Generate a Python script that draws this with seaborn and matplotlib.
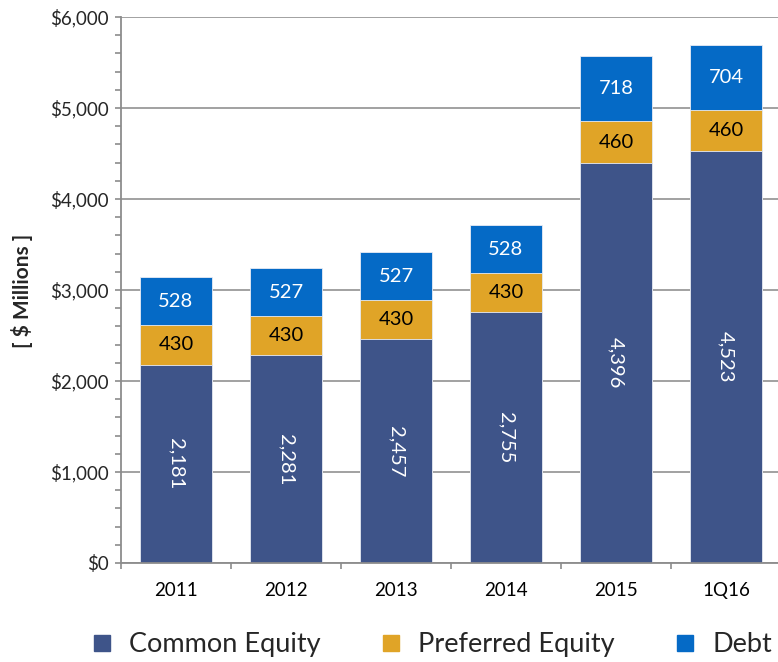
import numpy as np
import pandas as pd
import matplotlib
matplotlib.use("Agg")
import matplotlib.pyplot as plt
from matplotlib.lines import Line2D
import seaborn as sns

categories = ["2011", "2012", "2013", "2014", "2015", "1Q16"]
common_equity = [2181, 2281, 2457, 2755, 4396, 4523]
preferred_equity = [430, 430, 430, 430, 460, 460]
debt = [528, 527, 527, 528, 718, 704]
series_names = ["Common Equity", "Preferred Equity", "Debt"]
colors = ["#3E5489", "#E0A427", "#056AC6"]
ytick_values = [0, 1000, 2000, 3000, 4000, 5000, 6000]

sns.set_theme(style="white")
plt.rcParams['font.family'] = ['Lato', 'DejaVu Sans']

df = pd.DataFrame({
    "cat": categories,
    "common": common_equity,
    "pref": preferred_equity,
    "debt": debt,
})
df["c1"] = df["common"]
df["c2"] = df["common"] + df["pref"]
df["c3"] = df["c2"] + df["debt"]

fig = plt.figure(figsize=(7.78, 6.62), dpi=100)
ax = fig.add_axes([121/778, 1 - 563/662, 660/778, (563 - 17)/662])

for col, colr in zip(["c3", "c2", "c1"], colors[::-1]):
    sns.barplot(data=df, x="cat", y=col, color=colr, saturation=1, width=0.66,
                edgecolor="#E8ECF4", linewidth=0.6, ax=ax, zorder=3)

ax.set_ylim(0, 6000)
ax.set_xlim(-0.5, 5.5)
ax.set_yticks(ytick_values)
ax.set_yticklabels([f"${v:,.0f}" for v in ytick_values], fontsize=13.5)
ax.set_yticks(np.arange(0, 6001, 200), minor=True)
ax.set_xticks(range(len(categories)))
ax.set_xticklabels(categories, fontsize=13.5)
ax.set_xticks(np.arange(-0.5, 6, 1), minor=True)
ax.tick_params(axis="x", which="major", length=0, pad=14, colors="black")
ax.tick_params(axis="x", which="minor", length=4.5, width=1.2, color="#8C8C8C", direction="out", bottom=True)
ax.tick_params(axis="y", which="both", length=4.5, width=1.2, color="#8C8C8C", direction="out", left=True, pad=4.5)
ax.set_xlabel("")
ax.set_ylabel("")
ax.yaxis.grid(True, which="major", color="#9A9A9A", linewidth=1.3, zorder=0)
ax.set_axisbelow(True)
for s in ["top", "right"]:
    ax.spines[s].set_visible(False)
for s in ["left", "bottom"]:
    ax.spines[s].set_color("#8C8C8C")
    ax.spines[s].set_linewidth(1.3)
    ax.spines[s].set_zorder(4)

for i in range(len(categories)):
    c, p, d = common_equity[i], preferred_equity[i], debt[i]
    ax.text(i, c / 2, f"{c:,}", rotation=-90, ha="center", va="center",
            color="white", fontsize=14.5, zorder=5)
    ax.text(i, c + p / 2, f"{p:,}", ha="center", va="center",
            color="black", fontsize=14.5, zorder=5)
    ax.text(i, c + p + d / 2, f"{d:,}", ha="center", va="center",
            color="white", fontsize=14.5, zorder=5)

fig.text(22/778, 1 - 291/662, "[ $ Millions ]", rotation=90, ha="center", va="center",
         fontsize=15, fontweight="bold")

handles = [Line2D([0], [0], marker="s", linestyle="", markersize=12, color=c) for c in colors]
fig.legend(handles, series_names, loc="lower center", bbox_to_anchor=(0.553, -0.03), ncol=3,
           frameon=False, fontsize=19.5, handletextpad=0.5, columnspacing=2.1, handlelength=1.0)

fig.savefig("out.png", dpi=100)
